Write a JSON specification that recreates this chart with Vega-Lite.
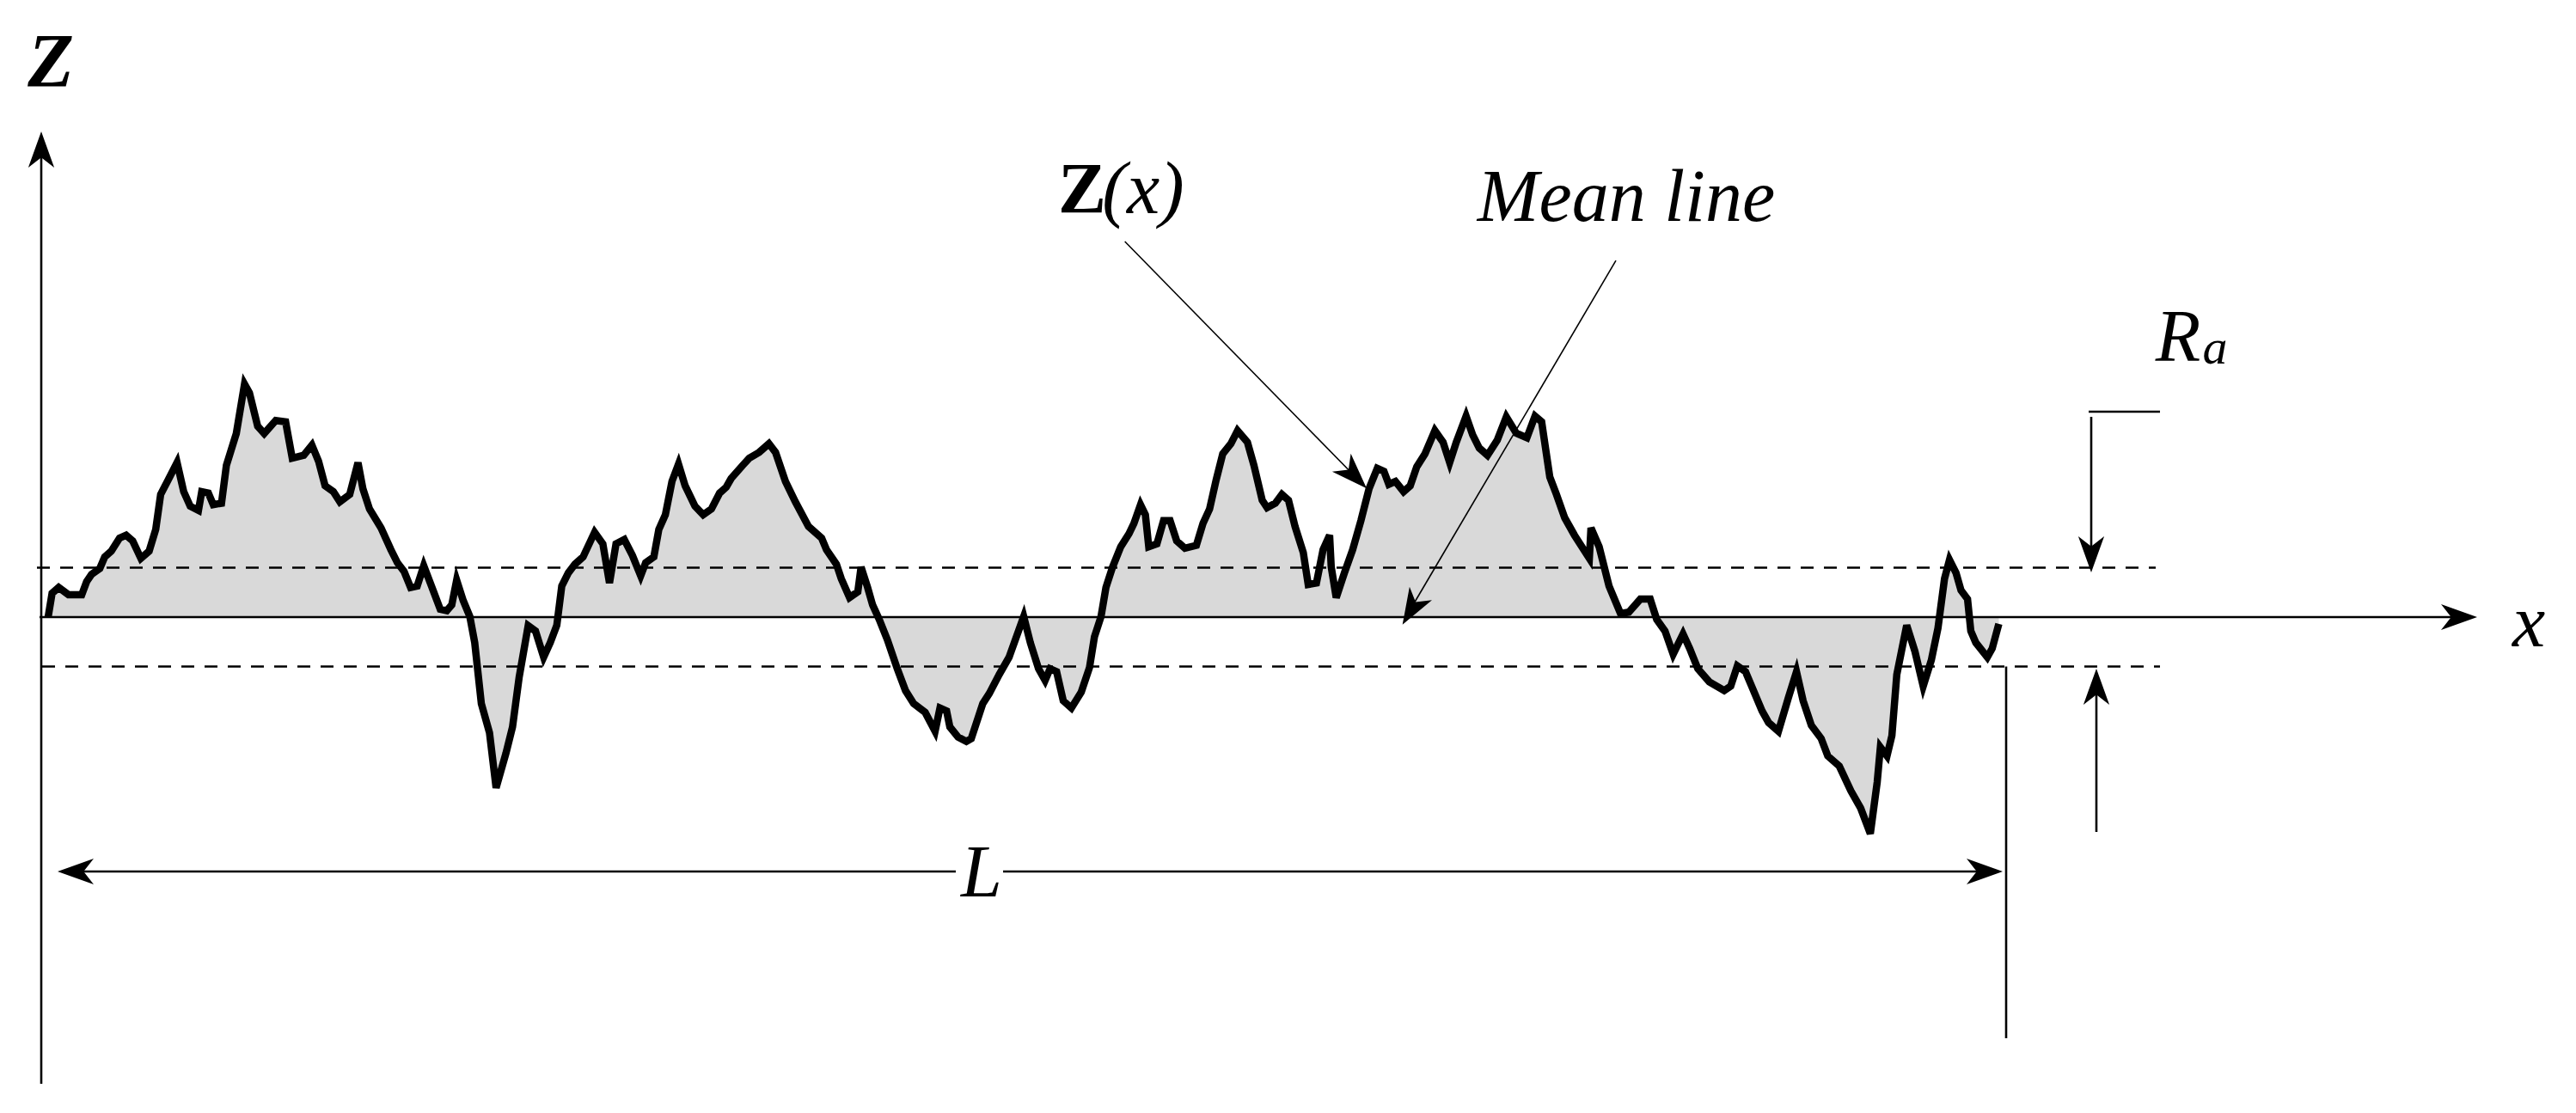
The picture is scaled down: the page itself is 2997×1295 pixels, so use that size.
{
  "$schema": "https://vega.github.io/schema/vega-lite/v6.json",
  "width": 2997,
  "height": 1295,
  "autosize": {"type": "fit", "contains": "padding"},
  "padding": 0,
  "background": "white",
  "config": {"view": {"stroke": null}},
  "datasets": {
    "profile": [
      {"x":56,"z":0},{"x":60.6,"z":27.7},{"x":68.3,"z":34.5},{"x":79.7,"z":26},{"x":95.1,"z":26},{"x":100.8,"z":41.3},{"x":106.5,"z":49.7},{"x":116.1,"z":56.5},{"x":121.8,"z":70},{"x":129.5,"z":76.7},{"x":139.1,"z":92},{"x":146.7,"z":95.3},{"x":154.4,"z":88.6},{"x":163.9,"z":68.3},{"x":173.5,"z":76.7},{"x":181.2,"z":102.1},{"x":186.9,"z":142.7},{"x":196.5,"z":161.2},{"x":206,"z":179.8},{"x":213.7,"z":146},{"x":221.3,"z":129.1},{"x":230.9,"z":124.1},{"x":234.7,"z":146},{"x":242.4,"z":144.3},{"x":248.1,"z":130.8},{"x":257.7,"z":132.5},{"x":263.4,"z":176.5},{"x":274.9,"z":213.6},{"x":284.5,"z":271.1},{"x":290.2,"z":261},{"x":299.8,"z":222.1},{"x":307.4,"z":213.6},{"x":320.8,"z":228.8},{"x":332.3,"z":227.2},{"x":340,"z":184.9},{"x":353.4,"z":188.3},{"x":362.9,"z":200.1},{"x":370.6,"z":181.5},{"x":378.2,"z":152.8},{"x":387.8,"z":146},{"x":395.4,"z":134.2},{"x":406.9,"z":142.7},{"x":416.5,"z":179.8},{"x":422.2,"z":149.4},{"x":429.9,"z":125.8},{"x":443.3,"z":103.8},{"x":454.8,"z":78.4},{"x":462.4,"z":63.2},{"x":470.1,"z":53.1},{"x":477.7,"z":34.5},{"x":485.4,"z":36.2},{"x":493,"z":59.8},{"x":498.8,"z":44.6},{"x":512.2,"z":9.1},{"x":519.8,"z":7.4},{"x":525.6,"z":14.2},{"x":531.3,"z":43},{"x":538.9,"z":19.3},{"x":546.6,"z":0.7},{"x":552.3,"z":-29.7},{"x":560,"z":-100.7},{"x":569.5,"z":-134.5},{"x":577.2,"z":-198.7},{"x":588.7,"z":-158.2},{"x":596.3,"z":-127.8},
      {"x":604,"z":-70},{"x":614.5,"z":-10},{"x":623,"z":-16.2},{"x":632.5,"z":-46.6},{"x":640.2,"z":-29.7},{"x":647.8,"z":-9.5},{"x":653.6,"z":36.2},{"x":661.2,"z":51.4},{"x":668.9,"z":61.5},{"x":678.4,"z":70},{"x":691.8,"z":98.7},{"x":701.4,"z":85.2},{"x":709.1,"z":39.6},{"x":716.7,"z":85.2},{"x":726.3,"z":90.3},{"x":735.8,"z":71.7},{"x":745.4,"z":48},{"x":751.2,"z":63.2},{"x":760.7,"z":70},{"x":766.5,"z":102.1},{"x":774.1,"z":119},{"x":781.8,"z":157.9},{"x":789.4,"z":178.1},{"x":797.1,"z":152.8},{"x":808.5,"z":129.1},{"x":818.1,"z":119},{"x":827.7,"z":125.8},{"x":837.2,"z":144.3},{"x":844.9,"z":151.1},{"x":850.6,"z":161.2},{"x":864,"z":176.5},{"x":871.7,"z":184.9},{"x":883.2,"z":191.7},{"x":894.6,"z":201.8},{"x":902.3,"z":191.7},{"x":913.8,"z":157.9},{"x":925.3,"z":134.2},{"x":940.6,"z":105.5},{"x":955.9,"z":92},{"x":961.6,"z":78.4},{"x":973.1,"z":61.5},{"x":978.8,"z":44.6},{"x":988.4,"z":22.7},{"x":998,"z":29.4},{"x":1001.8,"z":58.2},{"x":1009.4,"z":34.5},{"x":1015.2,"z":14.2},{"x":1022.9,"z":-2.7},{"x":1032.4,"z":-26.4},{"x":1043.9,"z":-60.1},{"x":1053.5,"z":-85.5},{"x":1063,"z":-100.7},{"x":1076.4,"z":-110.9},{"x":1087.9,"z":-132.8},{"x":1093.6,"z":-105.8},{"x":1101.3,"z":-109.2},{"x":1105.1,"z":-127.8},{"x":1114.7,"z":-139.6},{"x":1124.3,"z":-144.7},{"x":1130,"z":-141.3},{"x":1143.4,"z":-100.7},{"x":1151,"z":-88.9},{"x":1162.5,"z":-66.9},{"x":1174,"z":-46.6},
      {"x":1191,"z":0.7},{"x":1198.7,"z":-29.7},{"x":1208.3,"z":-60.1},{"x":1215.9,"z":-73.7},{"x":1221.7,"z":-60.1},{"x":1229.3,"z":-63.5},{"x":1237,"z":-97.3},{"x":1246.5,"z":-105.8},{"x":1258,"z":-87.2},{"x":1267.6,"z":-58.5},{"x":1273.3,"z":-23},{"x":1281,"z":0.7},{"x":1286.7,"z":34.5},{"x":1294.4,"z":58.2},{"x":1303.9,"z":81.8},{"x":1313.5,"z":97},{"x":1319.2,"z":108.9},{"x":1326.9,"z":130.8},{"x":1332.6,"z":119},{"x":1336.5,"z":81.8},{"x":1346,"z":85.2},{"x":1353.7,"z":112.2},{"x":1361.3,"z":112.2},{"x":1369,"z":88.6},{"x":1378.6,"z":80.1},{"x":1391.9,"z":83.5},{"x":1399.6,"z":108.9},{"x":1407.3,"z":125.8},{"x":1414.9,"z":159.6},{"x":1422.6,"z":190},{"x":1432.1,"z":201.8},{"x":1439.8,"z":217},{"x":1451.3,"z":203.5},{"x":1458.9,"z":176.5},{"x":1468.5,"z":135.9},{"x":1474.2,"z":127.4},{"x":1483.8,"z":132.5},{"x":1491.4,"z":142.7},{"x":1499.1,"z":135.9},{"x":1506.7,"z":105.5},{"x":1516.3,"z":75.1},{"x":1522,"z":37.9},{"x":1531.6,"z":39.6},{"x":1539.3,"z":78.4},{"x":1546.9,"z":95.3},{"x":1548.8,"z":58.2},{"x":1554.6,"z":22.7},{"x":1564.1,"z":51.4},{"x":1573.7,"z":78.4},{"x":1583.3,"z":112.2},{"x":1592.8,"z":149.4},{"x":1602.4,"z":173.1},{"x":1610.1,"z":169.7},{"x":1615.8,"z":154.5},{"x":1623.5,"z":157.9},{"x":1633,"z":146},{"x":1640.7,"z":152.8},{"x":1648.3,"z":174.8},{"x":1657.9,"z":190},{"x":1669.4,"z":217},{"x":1678.9,"z":203.5},{"x":1686.6,"z":179.8},{"x":1694.3,"z":203.5},{"x":1705.7,"z":233.9},{"x":1713.4,"z":211.9},{"x":1721,"z":196.7},{"x":1730.6,"z":188.3},
      {"x":1742,"z":206},{"x":1752.5,"z":233},{"x":1764,"z":214},{"x":1776.4,"z":208.6},{"x":1785.9,"z":233.9},{"x":1793.6,"z":227.2},{"x":1803.1,"z":162.9},{"x":1810.8,"z":142.7},{"x":1820.4,"z":115.6},{"x":1831.8,"z":95.3},{"x":1849.1,"z":68.3},{"x":1851,"z":103.8},{"x":1860.5,"z":81.8},{"x":1872,"z":36.2},{"x":1885.4,"z":4.1},{"x":1895,"z":5.8},{"x":1908.4,"z":20.9},{"x":1919.9,"z":20.9},{"x":1927.5,"z":-2.7},{"x":1937.1,"z":-16.2},{"x":1946.6,"z":-43.2},{"x":1958.1,"z":-19.6},{"x":1965.8,"z":-36.5},{"x":1975.3,"z":-60.1},{"x":1988.7,"z":-75.4},{"x":2006,"z":-85.5},{"x":2013.6,"z":-80.4},{"x":2021.3,"z":-56.8},{"x":2030.8,"z":-63.5},{"x":2050,"z":-109.2},{"x":2057.6,"z":-122.7},{"x":2069.1,"z":-132.8},{"x":2080.6,"z":-94},{"x":2090.1,"z":-63.5},{"x":2097.8,"z":-97.3},{"x":2107.4,"z":-126.1},{"x":2118.8,"z":-141.3},{"x":2126.5,"z":-161.6},{"x":2139.9,"z":-173.4},{"x":2153.3,"z":-202.1},{"x":2164.8,"z":-222.4},{"x":2176,"z":-252},{"x":2184,"z":-192},{"x":2187.7,"z":-151.4},{"x":2195.4,"z":-161.6},{"x":2201.1,"z":-137.9},{"x":2206.8,"z":-66.9},{"x":2218.3,"z":-9.5},{"x":2227.9,"z":-39.9},{"x":2237.5,"z":-80.4},{"x":2247,"z":-50},{"x":2254.7,"z":-12.8},{"x":2262.3,"z":44.6},{"x":2268.1,"z":66.6},{"x":2275.7,"z":51.4},{"x":2281.5,"z":31.1},{"x":2289.1,"z":21},{"x":2292.9,"z":-16.2},{"x":2298.7,"z":-29.7},{"x":2312.1,"z":-46.6},{"x":2317.8,"z":-36.5},{"x":2325.5,"z":-7.8}
    ],
    "solid": [
      {"name":"Z axis","x":48,"x2":48,"z":-543,"z2":555},
      {"name":"x axis","x":46,"x2":2865,"z":0,"z2":0},
      {"name":"L end","x":2334,"x2":2334,"z":-57.5,"z2":-490},
      {"name":"Ra tick","x":2430,"x2":2513,"z":239,"z2":239},
      {"name":"Ra down","x":2433,"x2":2433,"z":233,"z2":75},
      {"name":"Ra up","x":2439,"x2":2439,"z":-250,"z2":-80},
      {"name":"L left","x":80,"x2":1112,"z":-296,"z2":-296},
      {"name":"L right","x":1167,"x2":2315,"z":-296,"z2":-296}
    ],
    "dashed": [
      {"name":"upper","x":43,"x2":2508,"z":57.5,"z2":57.5},
      {"name":"lower","x":49,"x2":2513,"z":-57.5,"z2":-57.5}
    ],
    "thin": [
      {"name":"Z(x)","x":1308.7,"x2":1580,"z":437,"z2":160},
      {"name":"Mean line","x":1880,"x2":1638,"z":414.8,"z2":4}
    ],
    "heads": [
      {"name":"Z axis","x":48,"z":565,"heading":0},
      {"name":"x axis","x":2882,"z":0,"heading":90},
      {"name":"L left","x":67,"z":-296,"heading":270},
      {"name":"L right","x":2330,"z":-296,"heading":90},
      {"name":"Ra down","x":2433,"z":52,"heading":180},
      {"name":"Ra up","x":2439,"z":-60,"heading":0},
      {"name":"Z(x)","x":1590,"z":149.7,"heading":135.8},
      {"name":"Mean line","x":1631.7,"z":-8.7,"heading":210.4}
    ],
    "italic": [
      {"label":"Mean line","x":1892,"z":461},
      {"label":"x","x":2942,"z":-34},
      {"label":"L","x":1142,"z":-325},
      {"label":"R","x":2534,"z":298},
      {"label":"(x)","x":1330,"z":470}
    ],
    "boldItalic": [{"label":"Z","x":59,"z":618}],
    "bold": [{"label":"Z","x":1259,"z":470}],
    "sub": [{"label":"a","x":2577,"z":295}]
  },
  "encoding": {
    "x": {"field":"x","type":"quantitative","scale":{"domain":[0,2997],"nice":false,"zero":false},"axis":null},
    "y": {"field":"z","type":"quantitative","scale":{"domain":[-577,718],"nice":false,"zero":false},"axis":null}
  },
  "layer": [
    {"data":{"name":"profile"},"mark":{"type":"area","color":"#d9d9d9","opacity":1},"encoding":{"y2":{"datum":0}}},
    {"data":{"name":"solid"},"mark":{"type":"rule","color":"black","strokeWidth":2.6},"encoding":{"x2":{"field":"x2"},"y2":{"field":"z2"}}},
    {"data":{"name":"dashed"},"mark":{"type":"rule","color":"black","strokeWidth":2.6,"strokeDash":[15,12]},"encoding":{"x2":{"field":"x2"},"y2":{"field":"z2"}}},
    {"data":{"name":"profile"},"mark":{"type":"line","color":"black","strokeWidth":8.5,"strokeJoin":"miter"},"encoding":{}},
    {"data":{"name":"thin"},"mark":{"type":"rule","color":"black","strokeWidth":1.6},"encoding":{"x2":{"field":"x2"},"y2":{"field":"z2"}}},
    {"data":{"name":"heads"},"mark":{"type":"point","shape":"M0,0 L0.36,1 L0,0.72 L-0.36,1 Z","filled":true,"color":"black","opacity":1,"strokeWidth":0,"size":7056},"encoding":{"angle":{"field":"heading","type":"quantitative","scale":null}}},
    {"data":{"name":"italic"},"mark":{"type":"text","font":"Liberation Serif","fontStyle":"italic","fontSize":86,"align":"center","baseline":"alphabetic","color":"black"},"encoding":{"text":{"field":"label"}}},
    {"data":{"name":"boldItalic"},"mark":{"type":"text","font":"Liberation Serif","fontStyle":"italic","fontWeight":"bold","fontSize":88,"align":"center","baseline":"alphabetic","color":"black"},"encoding":{"text":{"field":"label"}}},
    {"data":{"name":"bold"},"mark":{"type":"text","font":"Liberation Serif","fontWeight":"bold","fontSize":84,"align":"center","baseline":"alphabetic","color":"black"},"encoding":{"text":{"field":"label"}}},
    {"data":{"name":"sub"},"mark":{"type":"text","font":"Liberation Serif","fontStyle":"italic","fontSize":58,"align":"center","baseline":"alphabetic","color":"black"},"encoding":{"text":{"field":"label"}}}
  ]
}
